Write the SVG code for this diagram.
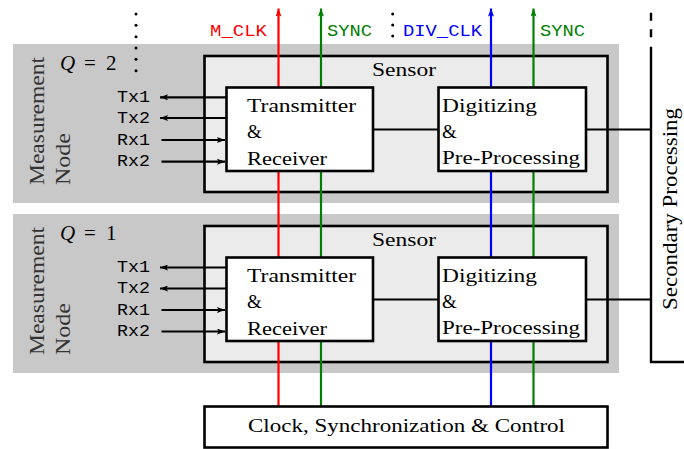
<svg xmlns="http://www.w3.org/2000/svg" width="684" height="449" viewBox="0 0 684 449">
<defs>
<style>
.panel{fill:#c8c8c8;stroke:none}
.sensor{fill:#ebebeb;stroke:#000;stroke-width:2.6}
.box{fill:#fff;stroke:#000;stroke-width:2.6}
.ln{fill:none;stroke-width:2.2}
.blk{stroke:#000}
.red{stroke:#ff0000}
.grn{stroke:#008000}
.blu{stroke:#0000ff}
.serif{font-family:"Liberation Serif","Times New Roman",serif;font-size:19px;fill:#000}
.mono{font-family:"Liberation Mono","Courier New",monospace;font-size:17px}
.side{font-family:"Liberation Serif","Times New Roman",serif;font-size:21px;fill:#333}
.math{font-family:"Liberation Serif","Times New Roman",serif;font-size:21px;fill:#000}
</style>
<marker id="ak" markerUnits="userSpaceOnUse" viewBox="0 0 8 6" refX="8" refY="3" markerWidth="8" markerHeight="6" orient="auto"><path d="M0,0 L8,3 L0,6 L1.5,3 z" fill="#000"/></marker>
<marker id="ar" markerUnits="userSpaceOnUse" viewBox="0 0 8 6" refX="8" refY="3" markerWidth="8" markerHeight="6" orient="auto"><path d="M0,0 L8,3 L0,6 L1.5,3 z" fill="#ff0000"/></marker>
<marker id="ag" markerUnits="userSpaceOnUse" viewBox="0 0 8 6" refX="8" refY="3" markerWidth="8" markerHeight="6" orient="auto"><path d="M0,0 L8,3 L0,6 L1.5,3 z" fill="#008000"/></marker>
<marker id="ab" markerUnits="userSpaceOnUse" viewBox="0 0 8 6" refX="8" refY="3" markerWidth="8" markerHeight="6" orient="auto"><path d="M0,0 L8,3 L0,6 L1.5,3 z" fill="#0000ff"/></marker>
</defs>

<g id="node-q2">
<rect class="panel" x="13" y="44" width="606" height="159"/>
<text class="side" transform="translate(43.5,185) rotate(-90)" textLength="128" lengthAdjust="spacingAndGlyphs">Measurement</text>
<text class="side" transform="translate(69.5,185) rotate(-90)" textLength="52" lengthAdjust="spacingAndGlyphs">Node</text>
<text class="math" x="60" y="70" font-style="italic">Q</text>
<text class="math" x="84" y="70">=</text>
<text class="math" x="106" y="70">2</text>
</g>
<g id="node-q1">
<rect class="panel" x="13" y="214" width="606" height="159"/>
<text class="side" transform="translate(43.5,355) rotate(-90)" textLength="128" lengthAdjust="spacingAndGlyphs">Measurement</text>
<text class="side" transform="translate(69.5,355) rotate(-90)" textLength="52" lengthAdjust="spacingAndGlyphs">Node</text>
<text class="math" x="60" y="240" font-style="italic">Q</text>
<text class="math" x="84" y="240">=</text>
<text class="math" x="106" y="240">1</text>
</g>
<g id="sensor-q2">
<rect class="sensor" x="204.5" y="56" width="403" height="136"/>
<text class="serif" x="372" y="76" textLength="64" lengthAdjust="spacingAndGlyphs">Sensor</text>
</g>
<g id="sensor-q1">
<rect class="sensor" x="204.5" y="226" width="403" height="136"/>
<text class="serif" x="372" y="246" textLength="64" lengthAdjust="spacingAndGlyphs">Sensor</text>
</g>

<g id="connectors">
<line class="ln red" x1="278.5" y1="406" x2="278.5" y2="8.5" marker-end="url(#ar)"/>
<line class="ln grn" x1="321" y1="406" x2="321" y2="8.5" marker-end="url(#ag)"/>
<line class="ln blu" x1="491" y1="406" x2="491" y2="8.5" marker-end="url(#ab)"/>
<line class="ln grn" x1="533.5" y1="406" x2="533.5" y2="8.5" marker-end="url(#ag)"/>
<line class="ln blk" x1="373" y1="129.5" x2="438.5" y2="129.5"/>
<line class="ln blk" x1="586" y1="129.5" x2="651" y2="129.5"/>
<line class="ln blk" x1="373" y1="299.5" x2="438.5" y2="299.5"/>
<line class="ln blk" x1="586" y1="299.5" x2="651" y2="299.5"/>
<line class="ln blk" x1="226.5" y1="97.3" x2="160" y2="97.3" marker-end="url(#ak)"/>
<line class="ln blk" x1="226.5" y1="118" x2="160" y2="118" marker-end="url(#ak)"/>
<line class="ln blk" x1="161.5" y1="140" x2="225" y2="140" marker-end="url(#ak)"/>
<line class="ln blk" x1="161.5" y1="161.7" x2="225" y2="161.7" marker-end="url(#ak)"/>
<line class="ln blk" x1="226.5" y1="267.5" x2="160" y2="267.5" marker-end="url(#ak)"/>
<line class="ln blk" x1="226.5" y1="288.5" x2="160" y2="288.5" marker-end="url(#ak)"/>
<line class="ln blk" x1="161.5" y1="310" x2="225" y2="310" marker-end="url(#ak)"/>
<line class="ln blk" x1="161.5" y1="331.5" x2="225" y2="331.5" marker-end="url(#ak)"/>
</g>

<g id="secondary-processing">
<path d="M651,12.7 V20.7 M651,29.3 V37.3" fill="none" stroke="#000" stroke-width="2.4"/>
<path d="M651,46.7 V362 H684" fill="none" stroke="#000" stroke-width="2.4"/>
<text class="serif" style="font-size:20px" transform="translate(677,310) rotate(-90)" textLength="202" lengthAdjust="spacingAndGlyphs">Secondary Processing</text>
</g>

<g id="dots" fill="#000">
<circle cx="136" cy="14" r="1.5"/><circle cx="136" cy="25.3" r="1.5"/><circle cx="136" cy="36.7" r="1.5"/>
<circle cx="136" cy="48" r="1.5"/><circle cx="136" cy="59.3" r="1.5"/><circle cx="136" cy="70.7" r="1.5"/>
<circle cx="392.7" cy="14" r="1.5"/><circle cx="392.7" cy="25" r="1.5"/><circle cx="392.7" cy="36" r="1.5"/>
</g>

<g id="signal-labels" class="mono">
<text x="210" y="35.5" fill="#ff0000" textLength="57" lengthAdjust="spacingAndGlyphs">M_CLK</text>
<text x="327" y="35.5" fill="#008000" textLength="45" lengthAdjust="spacingAndGlyphs">SYNC</text>
<text x="403" y="35.5" fill="#0000ff" textLength="79" lengthAdjust="spacingAndGlyphs">DIV_CLK</text>
<text x="540" y="35.5" fill="#008000" textLength="45" lengthAdjust="spacingAndGlyphs">SYNC</text>
</g>

<g id="port-labels-q2" class="mono" fill="#000">
<text x="117" y="101.7" textLength="33" lengthAdjust="spacingAndGlyphs">Tx1</text>
<text x="117" y="123" textLength="33" lengthAdjust="spacingAndGlyphs">Tx2</text>
<text x="117" y="144.5" textLength="33" lengthAdjust="spacingAndGlyphs">Rx1</text>
<text x="117" y="166" textLength="33" lengthAdjust="spacingAndGlyphs">Rx2</text>
</g>
<g id="port-labels-q1" class="mono" fill="#000">
<text x="117" y="271.7" textLength="33" lengthAdjust="spacingAndGlyphs">Tx1</text>
<text x="117" y="293" textLength="33" lengthAdjust="spacingAndGlyphs">Tx2</text>
<text x="117" y="314.5" textLength="33" lengthAdjust="spacingAndGlyphs">Rx1</text>
<text x="117" y="336" textLength="33" lengthAdjust="spacingAndGlyphs">Rx2</text>
</g>

<g id="txrx-q2">
<rect class="box" x="226.5" y="87.5" width="146.5" height="83.5"/>
<text class="serif" x="247" y="111.5" textLength="109" lengthAdjust="spacingAndGlyphs">Transmitter</text>
<text class="serif" x="247" y="138">&amp;</text>
<text class="serif" x="247" y="165" textLength="80" lengthAdjust="spacingAndGlyphs">Receiver</text>
</g>
<g id="dig-q2">
<rect class="box" x="438.5" y="87.5" width="147.5" height="83.5"/>
<text class="serif" x="442" y="111.5" textLength="95" lengthAdjust="spacingAndGlyphs">Digitizing</text>
<text class="serif" x="442" y="138">&amp;</text>
<text class="serif" x="442" y="164" textLength="138" lengthAdjust="spacingAndGlyphs">Pre-Processing</text>
</g>
<g id="txrx-q1">
<rect class="box" x="226.5" y="257.5" width="146.5" height="83.5"/>
<text class="serif" x="247" y="281.5" textLength="109" lengthAdjust="spacingAndGlyphs">Transmitter</text>
<text class="serif" x="247" y="308">&amp;</text>
<text class="serif" x="247" y="335" textLength="80" lengthAdjust="spacingAndGlyphs">Receiver</text>
</g>
<g id="dig-q1">
<rect class="box" x="438.5" y="257.5" width="147.5" height="83.5"/>
<text class="serif" x="442" y="281.5" textLength="95" lengthAdjust="spacingAndGlyphs">Digitizing</text>
<text class="serif" x="442" y="308">&amp;</text>
<text class="serif" x="442" y="334" textLength="138" lengthAdjust="spacingAndGlyphs">Pre-Processing</text>
</g>
<g id="clock-control">
<rect class="box" x="204.5" y="406.5" width="403" height="41"/>
<text class="serif" x="248" y="432" textLength="317" lengthAdjust="spacingAndGlyphs">Clock, Synchronization &amp; Control</text>
</g>
</svg>
